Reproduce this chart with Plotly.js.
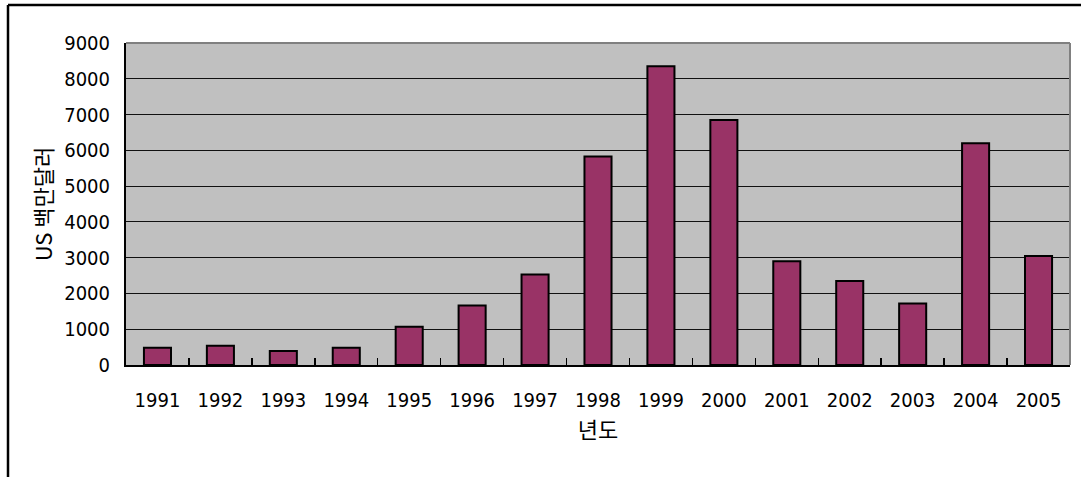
<!DOCTYPE html>
<html>
<head>
<meta charset="utf-8">
<script src="https://cdn.plot.ly/plotly-3.0.1.min.js"></script>
<style>html,body{margin:0;padding:0;background:#fff;}#chart{width:1081px;height:477px;}</style>
</head>
<body>
<div id="chart"></div>
<script>
const years = ['1991','1992','1993','1994','1995','1996','1997','1998','1999','2000','2001','2002','2003','2004','2005'];
const values = [480, 540, 390, 480, 1070, 1660, 2530, 5830, 8350, 6850, 2900, 2350, 1720, 6200, 3050];
const yTicks = [0,1000,2000,3000,4000,5000,6000,7000,8000,9000];
const xTitle = '년도';
const yTitle = 'US 백만달러';

const W = 1081, H = 477;
const M = {l:126, r:11, t:43, b:112};
const pw = W - M.l - M.r, ph = H - M.t - M.b;
const px = x => (x - M.l) / pw;
const py = y => (H - M.b - y) / ph;

const numFont = {family:'"Liberation Sans Narrow", "DejaVu Sans Condensed", Arial, sans-serif', size:20, color:'#000'};
const krFont = {family:'"Noto Sans CJK KR", sans-serif', size:22, color:'#000'};

const trace = {
  type:'bar', x: years, y: values,
  marker:{color:'#993366', line:{color:'#000', width:2}},
  hoverinfo:'none'
};

const layout = {
  width:W, height:H,
  margin:M,
  paper_bgcolor:'#fff', plot_bgcolor:'#c0c0c0',
  bargap:0.57,
  showlegend:false,
  xaxis:{
    type:'category', tickson:'boundaries', ticks:'inside', ticklen:7, tickwidth:1.5, tickcolor:'#000',
    showline:true, linecolor:'#000', linewidth:2, showgrid:false, layer:'above traces',
    tickfont:numFont, ticklabelstandoff:16,
    title:{text:xTitle, font:krFont, standoff:11},
    automargin:false
  },
  yaxis:{
    range:[0,9000], tickvals:yTicks, ticktext:yTicks.map(String),
    showline:true, linecolor:'#000', linewidth:2, ticks:'',
    showgrid:true, gridcolor:'#111', gridwidth:1, zeroline:false,
    tickfont:numFont, ticklabelstandoff:10,
    title:{text:yTitle, font:krFont, standoff:6},
    automargin:false
  },
  shapes:[
    {type:'line', xref:'paper', yref:'paper', x0:0, x1:1, y0:1, y1:1, line:{color:'#808080', width:2}},
    {type:'line', xref:'paper', yref:'paper', x0:1, x1:1, y0:0, y1:1, line:{color:'#808080', width:2}},
    {type:'line', xref:'paper', yref:'paper', x0:px(8), x1:px(1090), y0:py(5), y1:py(5), line:{color:'#000', width:2.5}},
    {type:'line', xref:'paper', yref:'paper', x0:px(8), x1:px(8), y0:py(5), y1:py(490), line:{color:'#000', width:2.5}}
  ]
};

Plotly.newPlot('chart', [trace], layout, {staticPlot:true, displayModeBar:false});
</script>
</body>
</html>
